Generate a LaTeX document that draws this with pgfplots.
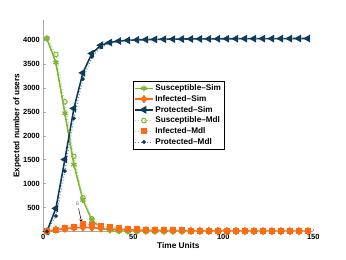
\documentclass[border=0pt]{standalone}
\usepackage{fontspec}
\setmainfont{Liberation Sans}
\usepackage{pgfplots}
\pgfplotsset{compat=1.18}
\definecolor{cgreen}{HTML}{7DB534}
\definecolor{corange}{HTML}{FF6A10}
\definecolor{cnavy}{HTML}{0E3B5A}
\begin{document}
\begin{tikzpicture}
\useasboundingbox (-43.3pt,-28.5pt) rectangle (302.7pt,231.5pt);
\begin{axis}[
  at={(0,0)}, anchor=south west,
  scale only axis, width=270pt, height=211.5pt,
  xmin=0, xmax=150, ymin=0, ymax=4420,
  axis x line*=bottom, axis y line*=left,
  axis line style={gray!70, line width=1.2pt, -},
  xtick={0,50,100,150}, ytick={500,1000,...,4000},
  tick align=inside, major tick length=2.5pt,
  tick style={gray!70, line width=0.5pt},
  /pgf/number format/assume math mode=true,
  /pgf/number format/1000 sep={},
  tick label style={font=\fontsize{7.5}{9}\selectfont\bfseries},
  xticklabel style={yshift=1pt},
  label style={font=\fontsize{8.3}{10}\selectfont\bfseries},
  xlabel={Time Units}, ylabel={Expected number of users},
  xlabel style={yshift=4pt}, ylabel style={yshift=-5pt},
  legend style={at={(0.332,0.712)}, anchor=north west, draw=black, line width=0.4pt,
     font=\fontsize{8.2}{10}\selectfont\bfseries, row sep=-0.7pt, inner sep=1.5pt,
     legend cell align=left},
]
% Sim
\addplot[cgreen, line width=1.6pt, mark=asterisk, mark size=3pt, mark options={line width=1.3pt}] coordinates {
(2,4030)(7,3530)(12,2470)(17,1400)(22,660)(27,240)(32,70)(37,25)(42,10)(47,5)(52,3)(57,1)(62,0)(67,0)(72,0)(77,0)(82,0)(87,0)(92,0)(97,0)(102,0)(107,0)(112,0)(117,0)(122,0)(127,0)(132,0)(137,0)(142,0)(147,0)};
\addlegendentry{Susceptible--Sim}
\addplot[corange, line width=1.6pt, mark=diamond*, mark size=3pt] coordinates {
(2,0)(7,40)(12,60)(17,75)(22,85)(27,80)(32,65)(37,52)(42,42)(47,36)(52,30)(57,26)(62,23)(67,20)(72,18)(77,16)(82,15)(87,14)(92,13)(97,12)(102,11)(107,10)(112,10)(117,9)(122,9)(127,8)(132,8)(137,8)(142,7)(147,7)};
\addlegendentry{Infected--Sim}
\addplot[cnavy, line width=1.6pt, mark=triangle*, mark size=3pt, mark options={rotate=90}] coordinates {
(2,0)(7,484)(12,1505)(17,2572)(22,3315)(27,3720)(32,3893)(37,3950)(42,3980)(47,3995)(52,4005)(57,4010)(62,4015)(67,4018)(72,4020)(77,4022)(82,4024)(87,4025)(92,4026)(97,4027)(102,4028)(107,4029)(112,4030)(117,4030)(122,4031)(127,4031)(132,4032)(137,4032)(142,4033)(147,4033)};
\addlegendentry{Protected--Sim}
% Mdl
\addplot[cgreen!60, line width=1pt, dotted, mark=o, mark size=2.3pt, mark options={solid, draw=cgreen, line width=1pt}] coordinates {
(2,4040)(7,3700)(12,2710)(17,1570)(22,705)(27,265)(32,90)(37,30)(42,10)(47,5)(52,2)(57,0)(62,0)(67,0)(72,0)(77,0)(82,0)(87,0)(92,0)(97,0)(102,0)(107,0)(112,0)(117,0)(122,0)(127,0)(132,0)(137,0)(142,0)(147,0)};
\addlegendentry{Susceptible--Mdl}
\addplot[corange!60, line width=1pt, dotted, mark=square*, mark size=2.5pt, mark options={solid, draw=corange, fill=corange}] coordinates {
(2,0)(7,40)(12,70)(17,100)(22,157)(27,136)(32,112)(37,85)(42,70)(47,58)(52,48)(57,40)(62,34)(67,29)(72,25)(77,22)(82,20)(87,18)(92,16)(97,15)(102,14)(107,13)(112,12)(117,11)(122,10)(127,10)(132,9)(137,9)(142,8)(147,8)};
\addlegendentry{Infected--Mdl}
\addplot[cnavy!60, line width=1pt, dotted, mark=*, mark size=1.4pt, mark options={solid, draw=cnavy, fill=cnavy}] coordinates {
(2,0)(7,324)(12,1263)(17,2363)(22,3184)(27,3650)(32,3850)(37,3930)(42,3970)(47,3990)(52,4000)(57,4005)(62,4010)(67,4014)(72,4017)(77,4020)(82,4022)(87,4024)(92,4025)(97,4026)(102,4027)(107,4028)(112,4029)(117,4030)(122,4030)(127,4031)(132,4031)(137,4032)(142,4032)(147,4033)};
\addlegendentry{Protected--Mdl}
\node[font=\fontsize{5}{6}\selectfont, text=gray] at (axis cs:19,575) {B};
\draw[->, >=stealth, line width=0.5pt] (axis cs:19.6,480) -- (axis cs:21.3,190);
\end{axis}
\end{tikzpicture}
\end{document}
